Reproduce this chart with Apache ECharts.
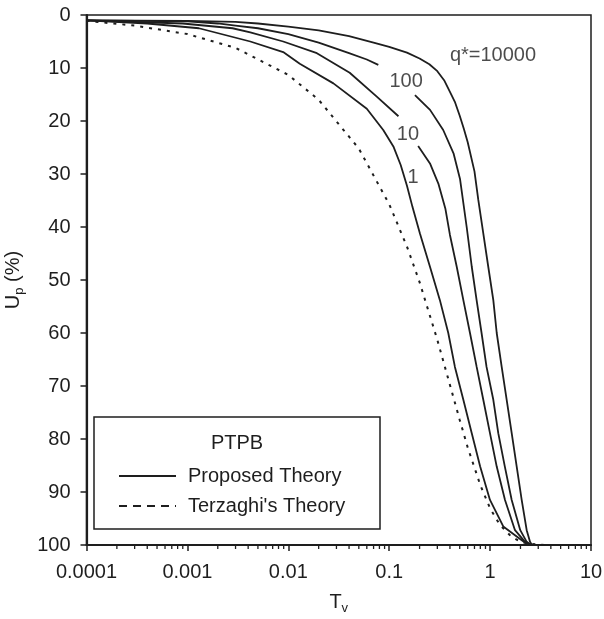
<!DOCTYPE html>
<html>
<head>
<meta charset="utf-8">
<script src="https://cdn.jsdelivr.net/npm/echarts@6/dist/echarts.min.js"></script>
<style>html,body{margin:0;padding:0;background:#fff}#c{width:604px;height:619px}</style>
</head>
<body>
<div id="c"></div>
<script>
// ---- tick labels ----
const xTickLabels = ['0.0001', '0.001', '0.01', '0.1', '1', '10'];
const yTickLabels = ['0', '10', '20', '30', '40', '50', '60', '70', '80', '90', '100'];
const minorTickValues = [
  0.0002,0.0003,0.0004,0.0005,0.0006,0.0007,0.0008,0.0009,
  0.002,0.003,0.004,0.005,0.006,0.007,0.008,0.009,
  0.02,0.03,0.04,0.05,0.06,0.07,0.08,0.09,
  0.2,0.3,0.4,0.5,0.6,0.7,0.8,0.9,
  2,3,4,5,6,7,8,9
];

// ---- series values (Tv, Up %) ; null = gap left for curve label ----
const q10000T = [0.0001,0.001,0.003,0.005,0.01,0.02,0.04,0.07,0.1,0.15,0.2,0.25,0.3,0.35,0.4,0.45,0.5,0.55,0.6,0.7,0.764,0.856,0.959,1.076,1.163,1.303,1.46,1.637,1.835,2.056,2.305,2.486,2.6];
const q10000U = [1.0,1.1,1.3,1.6,2.2,2.9,4.0,5.2,6.0,7.1,8.2,9.3,10.6,12.3,14.5,16.5,19.0,21.5,24.0,29.5,34.9,41.2,47.5,53.8,60.0,66.4,72.6,78.9,85.2,91.5,97.2,99.4,100];

const q100T = [0.0001,0.001,0.002,0.003,0.005,0.01,0.02,0.04,0.06,0.078,0.12,0.18,0.254,0.343,0.434,0.504,0.586,0.658,0.735,0.823,0.922,1.076,1.205,1.40,1.637,1.99,2.305,2.55];
const q100U = [1.0,1.2,1.6,2.0,2.5,3.6,5.2,7.2,8.4,9.4,null,15.1,17.9,21.7,26.1,31.0,40.0,47.5,53.8,60.0,66.4,72.6,78.9,85.2,91.5,97.2,99.4,100];

const q10T = [0.0001,0.0009,0.0028,0.0042,0.0089,0.0192,0.0406,0.0753,0.1235,0.16,0.1936,0.2536,0.307,0.36,0.40,0.467,0.543,0.632,0.736,0.856,0.997,1.163,1.405,1.765,2.22,2.5];
const q10U = [1.0,1.6,2.5,3.3,5.0,7.2,10.9,15.4,19.1,null,24.7,28.0,31.8,36.5,41.5,47.5,53.8,60.0,66.4,72.6,78.9,85.2,91.5,97.2,99.4,100];

const q1T = [0.0001,0.0004,0.0013,0.0042,0.0089,0.013,0.028,0.06,0.0873,0.11,0.13,0.15,0.17,0.2013,0.2536,0.318,0.385,0.448,0.543,0.658,0.797,0.997,1.35,2.06,2.4];
const q1U = [1.0,1.6,2.5,5.0,7.0,9.2,12.9,17.7,21.7,24.8,28.3,32.2,36.2,41.2,47.5,53.8,60.0,66.4,72.6,78.9,85.2,91.5,96.5,99.1,100];

const terzT = [0.0001,0.0003,0.001,0.003,0.01,0.02,0.05,0.1,0.15,0.2,0.3,0.4,0.5,0.6,0.8,1.0,1.25,1.6,2.0,2.5,3.5];
const terzU = [1.1,2.0,3.6,6.2,11.3,16.0,25.2,35.7,43.7,50.4,61.3,69.8,76.4,81.6,88.7,93.1,96.2,98.3,99.4,99.8,100];

// ---- curve labels ----
const curveLabelText = ['q*=10000', '100', '10', '1'];
const curveLabelT = [1.068, 0.147, 0.1535, 0.172];
const curveLabelU = [7.7, 12.6, 22.5, 30.6];

const FONT = "'Liberation Sans', Arial, Helvetica, sans-serif";
const INK = '#1e1e1e';

function pairs(T, U) { return T.map((t, i) => [t, U[i] === null ? '-' : U[i]]); }

function solid(name, T, U) {
  return {
    name: 'Proposed Theory', id: name, type: 'line', data: pairs(T, U),
    showSymbol: false, symbol: 'none', connectNulls: false,
    lineStyle: { color: INK, width: 1.8, type: 'solid' },
    itemStyle: { color: INK }, z: 3, silent: true
  };
}

const chart = echarts.init(document.getElementById('c'), null, { renderer: 'canvas' });
chart.setOption({
  animation: false,
  backgroundColor: '#fff',
  textStyle: { fontFamily: FONT },
  grid: { left: 86.5, right: 13, top: 15, bottom: 74, show: true, borderColor: INK, borderWidth: 1.5,
    backgroundColor: 'transparent', containLabel: false, outerBoundsMode: 'none' },
  xAxis: {
    type: 'log', logBase: 10, min: 0.0001, max: 10,
    axisLine: { onZero: false, lineStyle: { color: INK, width: 2 } },
    axisTick: { show: true, inside: false, length: 6, lineStyle: { color: INK, width: 1.5 } },
    axisLabel: { fontSize: 20, color: INK, margin: 17, fontFamily: FONT,
      formatter: v => xTickLabels[Math.round(Math.log10(v)) + 4] },
    splitLine: { show: false },
    name: '{a|T}{b|v}', nameLocation: 'middle', nameGap: 44,
    nameTextStyle: { rich: {
      a: { fontSize: 20, color: INK, fontFamily: FONT, lineHeight: 26 },
      b: { fontSize: 13, color: INK, fontFamily: FONT, lineHeight: 13, verticalAlign: 'bottom' } } }
  },
  yAxis: {
    type: 'value', inverse: true, min: 0, max: 100, interval: 10,
    axisLine: { show: true, onZero: false, lineStyle: { color: INK, width: 2.2 } },
    axisTick: { show: true, inside: false, length: 6, lineStyle: { color: INK, width: 1.5 } },
    axisLabel: { fontSize: 20, color: INK, margin: 16, fontFamily: FONT,
      formatter: v => yTickLabels[Math.round(v / 10)] },
    splitLine: { show: false },
    name: '{a|U}{b|p}{a| (%)}', nameLocation: 'middle', nameGap: 56,
    nameTextStyle: { rich: {
      a: { fontSize: 20, color: INK, fontFamily: FONT, lineHeight: 26 },
      b: { fontSize: 13, color: INK, fontFamily: FONT, lineHeight: 13, verticalAlign: 'bottom' } } }
  },
  legend: {
    data: [
      { name: 'Proposed Theory' },
      { name: "Terzaghi's Theory", lineStyle: { type: [8, 6], width: 1.8, color: INK } }
    ],
    orient: 'vertical', left: 113, top: 461, itemWidth: 57, itemHeight: 20, itemGap: 10,
    selectedMode: false,
    itemStyle: { color: 'transparent', borderWidth: 0, opacity: 0 },
    textStyle: { fontSize: 20, color: INK, fontFamily: FONT, padding: [0, 0, 0, 7] },
    z: 20
  },
  graphic: [
    { type: 'rect', x: 94, y: 417, shape: { width: 286, height: 112 },
      style: { fill: '#fff', stroke: INK, lineWidth: 1.5 }, z: 10 },
    { type: 'text', x: 237, y: 443, z: 11,
      style: { text: 'PTPB', fill: INK, font: "20px 'Liberation Sans', Arial, sans-serif", align: 'center', verticalAlign: 'middle' } }
  ],
  series: [
    solid('q10000', q10000T, q10000U),
    solid('q100', q100T, q100U),
    solid('q10', q10T, q10U),
    solid('q1', q1T, q1U),
    {
      name: "Terzaghi's Theory", type: 'line', data: pairs(terzT, terzU),
      showSymbol: false, symbol: 'none', silent: true,
      lineStyle: { color: INK, width: 2, type: [3, 6] }, itemStyle: { color: INK }, z: 3
    },
    {
      name: 'curveLabels', type: 'scatter', silent: true,
      data: curveLabelT.map((t, i) => ({ value: [t, curveLabelU[i]], name: curveLabelText[i] })),
      symbolSize: 0, itemStyle: { color: 'transparent' },
      label: { show: true, position: 'inside', formatter: p => p.name, fontSize: 20, color: INK, fontFamily: FONT }
    },
    {
      name: 'minorTicks', type: 'custom', silent: true, clip: false,
      data: minorTickValues.map(v => [v]),
      renderItem: function (params, api) {
        const p = api.coord([api.value(0), 100]);
        return { type: 'line', shape: { x1: p[0], y1: p[1], x2: p[0], y2: p[1] + 4 },
          style: { stroke: INK, lineWidth: 1.3 } };
      },
      z: 5
    }
  ]
});
</script>
</body>
</html>
